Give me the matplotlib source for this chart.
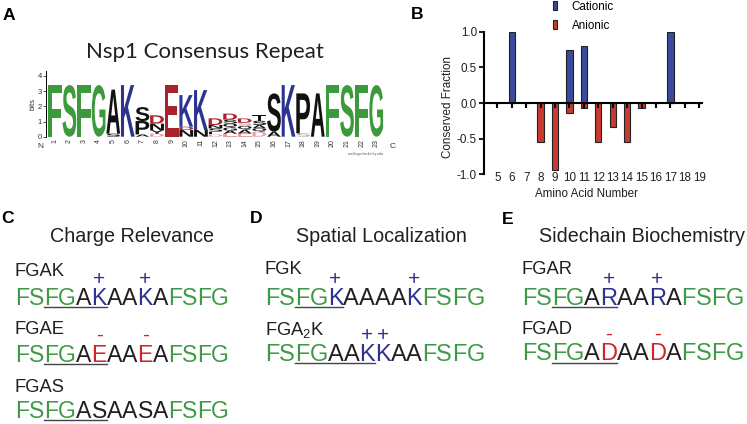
import matplotlib
matplotlib.use("Agg")
import matplotlib.pyplot as plt
from matplotlib.font_manager import FontProperties
from matplotlib.patches import PathPatch
from matplotlib.textpath import TextPath
from matplotlib.transforms import Affine2D, blended_transform_factory

W, H = 747, 424

plt.rcParams['font.family'] = 'Liberation Sans'
plt.rcParams['axes.unicode_minus'] = False
plt.rcParams['mathtext.fontset'] = 'custom'
plt.rcParams['mathtext.rm'] = 'Liberation Sans'
plt.rcParams['mathtext.it'] = 'Liberation Sans'

# ---- panel A: sequence logo, each column bottom -> top as (letter, bits, colour key)
logo_positions = list(range(1, 24))
logo_stacks = [
    [("F", 3.4, "g")],
    [("S", 3.4, "g")],
    [("F", 3.4, "g")],
    [("G", 3.4, "g")],
    [("S", 0.2, "k"), ("A", 2.9, "k")],
    [("K", 3.4, "b")],
    [("A", 0.15, "k"), ("P", 0.88, "k"), ("S", 0.92, "k")],
    [("D", 0.2, "p"), ("Y", 0.22, "k"), ("N", 0.44, "k"), ("D", 0.55, "r")],
    [("E", 3.4, "r")],
    [("N", 0.44, "k"), ("D", 0.22, "r"), ("K", 2.08, "b")],
    [("N", 0.44, "k"), ("K", 2.63, "b")],
    [("D", 0.15, "p"), ("E", 0.18, "k"), ("S", 0.22, "k"), ("N", 0.22, "k"), ("D", 0.44, "r")],
    [("E", 0.2, "p"), ("A", 0.2, "k"), ("G", 0.2, "k"), ("Q", 0.26, "k"), ("S", 0.26, "k"), ("D", 0.4, "r")],
    [("E", 0.22, "p"), ("A", 0.24, "k"), ("Q", 0.24, "k"), ("S", 0.22, "p"), ("D", 0.28, "r")],
    [("D", 0.33, "p"), ("Q", 0.22, "k"), ("A", 0.22, "k"), ("S", 0.28, "k"), ("T", 0.37, "k")],
    [("A", 0.33, "k"), ("S", 2.52, "k")],
    [("K", 3.4, "b")],
    [("S", 0.22, "s"), ("P", 2.63, "k")],
    [("A", 2.85, "k")],
    [("F", 3.4, "g")],
    [("S", 3.4, "g")],
    [("F", 3.4, "g")],
    [("G", 3.4, "g")],
]

# ---- panel B: conserved charge per amino acid position
aa_number = list(range(5, 20))
cationic = [0, 1.0, 0, 0, 0, 0.74, 0.80, 0, 0, 0, 0, 0, 1.0, 0, 0]
anionic = [0, 0, 0, -0.54, -0.94, -0.14, -0.07, -0.54, -0.34, -0.54, -0.07, 0, 0, 0, 0]

# ---- panels C-E: designed repeats
c_title = "Charge Relevance"
c_motifs = ["FGAK", "FGAE", "FGAS"]
c_names = ["FGAK", "FGAE", "FGAS"]
c_seqs = ["FSFGAKAAKAFSFG", "FSFGAEAAEAFSFG", "FSFGASAASAFSFG"]

d_title = "Spatial Localization"
d_motifs = ["FGK", "FGAAK"]
d_names = ["FGK", r"FGA$_{2}$K"]
d_seqs = ["FSFGKAAAAKFSFG", "FSFGAAKKAAFSFG"]

e_title = "Sidechain Biochemistry"
e_motifs = ["FGAR", "FGAD"]
e_names = ["FGAR", "FGAD"]
e_seqs = ["FSFGARAARAFSFG", "FSFGADAADAFSFG"]

# colours
LOGO_COLS = {"g": "#3c9a3c", "b": "#2c3390", "r": "#a8232b", "k": "#111111",
             "p": "#e3a0a6", "s": "#aaaaaa"}
GREEN = "#3f9a45"
BLUE = "#2e3192"
RED = "#d2232a"
INK = "#231f20"
ULINE = "#444444"
BAR_BLUE = "#3b4a9e"
BAR_RED = "#c93a30"

LOGO_FONT = FontProperties(family="Liberation Sans", weight="bold")
SEQ_C = FontProperties(family="Liberation Sans", size=16.6)
SEQ = FontProperties(family="Liberation Sans", size=17)
LAB = FontProperties(family="Liberation Sans", size=13.2)
TTL = FontProperties(family="Liberation Sans", size=14.2)
MARK = FontProperties(family="Liberation Sans", size=15)
PANEL = FontProperties(family="Liberation Sans", weight="bold", size=12.6)

fig = plt.figure(figsize=(W / 100, H / 100), dpi=100)

# overlay axes in pixel units (y downward) for the free text
ov = fig.add_axes([0, 0, 1, 1])
ov.set_xlim(0, W)
ov.set_ylim(H, 0)
ov.axis("off")

renderer = fig.canvas.get_renderer()


def tw(s, fp):
    if not s:
        return 0.0
    w, _, _ = renderer.get_text_width_height_descent(s, fp, ismath=False)
    return w


def glyph(ax, ch, x, y, w, h, color):
    tp = TextPath((0, 0), ch, size=1, prop=LOGO_FONT)
    bb = tp.get_extents()
    tr = (Affine2D().translate(-bb.x0, -bb.y0)
          .scale(w / bb.width, h / bb.height).translate(x, y))
    ax.add_patch(PathPatch(tr.transform_path(tp), fc=color, lw=0))


# ---------------- panel A ----------------
axa = fig.add_axes([46 / W, 1 - 136.7 / H, 339 / W, 65.3 / H])
axa.patch.set_alpha(0)
for pos, stack in zip(logo_positions, logo_stacks):
    y = 0.0
    for ch, bits, ck in stack:
        glyph(axa, ch, pos - 0.47, y, 0.94, bits, LOGO_COLS[ck])
        y += bits
axa.set_xlim(0.4, 23.6)
axa.set_ylim(0, 4.3)
for s in ["top", "right", "bottom"]:
    axa.spines[s].set_visible(False)
axa.spines["left"].set_linewidth(0.7)
axa.set_yticks([0, 1, 2, 3, 4])
axa.tick_params(axis="y", labelsize=5.5, length=2, width=0.6, pad=1, colors="#333333")
axa.set_xticks(logo_positions)
axa.set_xticklabels([str(p) for p in logo_positions], rotation=90)
axa.tick_params(axis="x", labelsize=5, length=0, pad=1.5, colors="#333333")
axa.set_ylabel("bits", fontsize=5.5, labelpad=1, color="#333333")
ov.text(40, 146, "N", fontsize=6, color="#333333", ha="center", va="center")
ov.text(393, 146, "C", fontsize=6, color="#333333", ha="center", va="center")
ov.text(348, 154, "weblogo.berkeley.edu", fontsize=2.6, color="#555555", ha="left", va="center")
ov.text(205, 58, "Nsp1 Consensus Repeat", family="Lato", fontsize=16, color=INK,
        ha="center", va="baseline")

# ---------------- panel B ----------------
axb = fig.add_axes([484 / W, 1 - 174.3 / H, 217.7 / W, 142.6 / H])
axb.patch.set_alpha(0)
axb.bar(aa_number, cationic, width=0.44, color=BAR_BLUE, edgecolor="#222222",
        linewidth=0.8, label="Cationic")
axb.bar(aa_number, anionic, width=0.44, color=BAR_RED, edgecolor="#222222",
        linewidth=0.8, label="Anionic")
axb.set_xlim(4.08, 19.17)
axb.set_ylim(-1, 1)
axb.spines[["top", "right"]].set_visible(False)
axb.spines["bottom"].set_position(("data", 0))
axb.spines[["left", "bottom"]].set_linewidth(1.5)
axb.set_yticks([-1, -0.5, 0, 0.5, 1])
axb.set_yticklabels(["-1.0", "-0.5", "0.0", "0.5", "1.0"])
axb.tick_params(axis="y", labelsize=8.4, length=3.6, width=1.5, pad=1.5, colors=INK)
axb.set_xticks(aa_number)
axb.tick_params(axis="x", labelbottom=False, length=3.6, width=1.5)
btr = blended_transform_factory(axb.transData, axb.transAxes)
for n in aa_number:
    axb.text(n, -0.024, str(n), transform=btr, ha="center", va="center", fontsize=8.4, color=INK)
axb.set_ylabel("Conserved Fraction", fontsize=8.4, color=INK)
axb.yaxis.set_label_coords(-0.138, 0.474)
axb.set_xlabel("Amino Acid Number", fontsize=8.4, color=INK)
axb.xaxis.set_label_coords(0.472, -0.096)
axb.legend(loc="upper left", bbox_to_anchor=(553 / W, 1 - 1 / H), bbox_transform=fig.transFigure,
           frameon=False, fontsize=8.4, handlelength=0.35, handleheight=0.8,
           handletextpad=1.25, labelspacing=0.6, borderpad=0, borderaxespad=0)


# ---------------- panels C-E ----------------
def seq_row(x0, base, seq, motif, fp):
    n = len(seq)
    for i, ch in enumerate(seq):
        x = x0 + tw(seq[:i], fp)
        inner = 4 <= i < n - 4
        if not inner:
            col = GREEN
        elif ch in "KR":
            col = BLUE
        elif ch in "ED":
            col = RED
        else:
            col = INK
        ov.text(x, base, ch, color=col, fontproperties=fp, ha="left", va="baseline")
        if inner and ch in "KRED":
            cx = x + tw(ch, fp) / 2
            if ch in "KR":
                ov.text(cx, base - 27 + 7.4, "+", color=BLUE, fontproperties=MARK,
                        ha="center", va="baseline")
            else:
                ov.text(cx, base - 26 + 5.0, "-", color=RED, fontproperties=MARK,
                        ha="center", va="baseline")
    x1 = x0 + tw(seq[:2], fp)
    x2 = x0 + tw(seq[:2 + len(motif)], fp)
    ov.plot([x1, x2], [base + 2.2, base + 2.2], color=ULINE, lw=1)


def panel(letter, lx, lby, title, tcx, x0, names, motifs, seqs, name_base, seq_base, fp):
    ov.text(lx, lby, letter, fontproperties=PANEL, color="black", ha="left", va="baseline")
    ov.text(tcx, 242.5, title, fontproperties=TTL, color=INK, ha="center", va="baseline")
    for nm, mo, sq, nb, sb in zip(names, motifs, seqs, name_base, seq_base):
        ov.text(x0, nb, nm, fontproperties=LAB, color=INK, ha="left", va="baseline")
        seq_row(x0, sb, sq, mo, fp)


ov.text(2.7, 20, "A", fontproperties=PANEL, color="black", ha="left", va="baseline")
ov.text(410.7, 19.3, "B", fontproperties=PANEL, color="black", ha="left", va="baseline")
panel("C", 1, 222.7, c_title, 131.7, 15, c_names, c_motifs, c_seqs,
      [276, 334.5, 391.5], [305, 361.5, 418], SEQ_C)
panel("D", 250, 222.7, d_title, 381.7, 265, d_names, d_motifs, d_seqs,
      [274, 335], [305, 361], SEQ)
panel("E", 501.7, 224, e_title, 641.7, 521.7, e_names, e_motifs, e_seqs,
      [274, 333.5], [305, 360.5], SEQ)

fig.savefig("out.png", dpi=100)
